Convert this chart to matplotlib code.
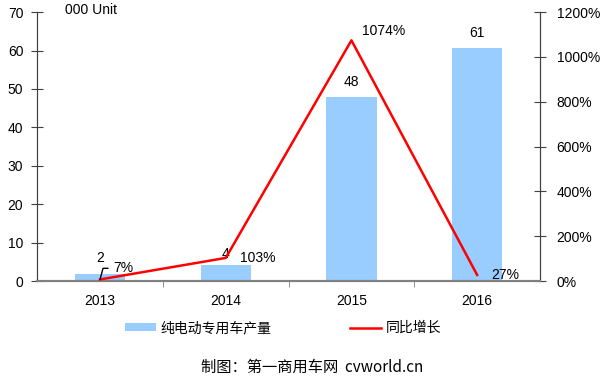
import matplotlib
matplotlib.use("Agg")
import matplotlib.pyplot as plt
from matplotlib.patches import Patch
from matplotlib.lines import Line2D

plt.rcParams['font.family'] = ['Liberation Sans', 'Noto Sans CJK SC', 'DejaVu Sans']

years = ["2013", "2014", "2015", "2016"]
output_k = [1.9, 4.2, 47.9, 60.7]
output_labels = ["2", "4", "48", "61"]
growth = [7, 103, 1074, 27]
growth_labels = ["7%", "103%", "1074%", "27%"]
left_ticks = [0, 10, 20, 30, 40, 50, 60, 70]
right_ticks = [0, 200, 400, 600, 800, 1000, 1200]

fig = plt.figure(figsize=(6, 3.78), dpi=100)
ax = fig.add_axes([0.062, 0.2566, 0.838, 0.7114])
ax2 = ax.twinx()

x = list(range(len(years)))
ax.bar(x, output_k, width=0.4, color="#99CCFF", zorder=2)
ax2.plot(x, growth, color="#FF0000", lw=1.8, zorder=3)

ax.set_xlim(-0.5, len(years) - 0.5)
ax.set_ylim(0, 70)
ax2.set_ylim(0, 1200)
ax.set_yticks(left_ticks)
ax2.set_yticks(right_ticks)
ax2.set_yticklabels([f"{v}%" for v in right_ticks])
ax.set_xticks(x)
ax.set_xticklabels(years)
ax.set_xticks([i + 0.5 for i in x[:-1]], minor=True)

for a in (ax, ax2):
    a.spines['top'].set_visible(False)
    a.spines['left'].set_color("#404040")
    a.spines['right'].set_color("#404040")
    a.spines['bottom'].set_color("#808080")
    a.spines['bottom'].set_linewidth(1.5)
ax.tick_params(axis='y', direction='inout', length=8, color="#404040", labelsize=10, pad=6)
ax2.tick_params(axis='y', direction='inout', length=8, color="#404040", labelsize=10, pad=8)
ax.tick_params(axis='x', which='major', length=0, labelsize=10, pad=9)
ax.tick_params(axis='x', which='minor', direction='out', length=4, color="#808080")

# bar labels (offsets in points above bar top, label centred)
bar_dy = [11, 8, 11, 11]
for i, (v, lab) in enumerate(zip(output_k, output_labels)):
    ax.annotate(lab, (i, v), xytext=(0, bar_dy[i]), textcoords='offset points',
                ha='center', va='center', fontsize=10)

# growth labels
offsets = [(17, 8), (23, 0), (23, 7), (20, 0)]
for i, (g, lab) in enumerate(zip(growth, growth_labels)):
    dx, dy = offsets[i]
    if i == 0:
        ax2.annotate(lab, (i, g), xytext=(dx, dy), textcoords='offset points',
                     ha='center', va='center', fontsize=10,
                     arrowprops=dict(arrowstyle='-', color='black', lw=1,
                                     shrinkA=2, shrinkB=0,
                                     connectionstyle="angle,angleA=0,angleB=75,rad=0",
                                     relpos=(0, 0.5)))
    else:
        ax2.annotate(lab, (i, g), xytext=(dx, dy), textcoords='offset points',
                     ha='center', va='center', fontsize=10)

ax.text(0.056, 1.009, "000 Unit", transform=ax.transAxes, fontsize=10, va='center', ha='left')

handles = [Patch(facecolor="#99CCFF", edgecolor="none"),
           Line2D([0], [0], color="#FF0000", lw=1.8)]
fig.legend(handles, ["纯电动专用车产量", "同比增长"], loc='center left',
           bbox_to_anchor=(0.209, 0.132), borderaxespad=0, borderpad=0,
           ncol=2, frameon=False, handlelength=2.2, handleheight=0.55,
           handletextpad=0.35, columnspacing=5.65,
           prop={'family': ['Noto Sans CJK SC'], 'size': 10})

fig.text(0.52, 0.028, "制图：第一商用车网  cvworld.cn", ha='center', va='center',
         fontsize=11, family=['Noto Sans CJK SC', 'DejaVu Sans'])

fig.savefig("out.png", dpi=100)
